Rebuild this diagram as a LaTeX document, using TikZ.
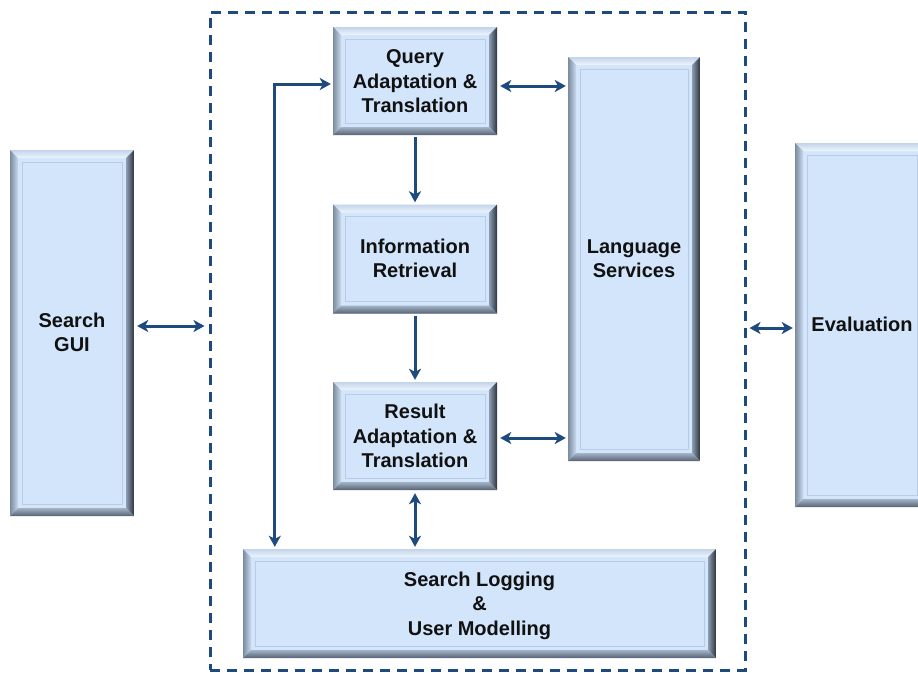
\documentclass[tikz,border=0pt]{standalone}
\usepackage{fontspec}
\setmainfont{Liberation Sans}
\usetikzlibrary{arrows.meta,calc}
\definecolor{navy}{HTML}{1F4A7E}
\definecolor{boxfill}{HTML}{D3E5FB}
\definecolor{topout}{HTML}{C3D4EA}
\definecolor{topin}{HTML}{EEF5FD}
\definecolor{leftout}{HTML}{7C8B9E}
\definecolor{leftin}{HTML}{C9DAEF}
\definecolor{rightin}{HTML}{8E9DB2}
\definecolor{rightout}{HTML}{2C343E}
\definecolor{botin}{HTML}{A4B4C8}
\definecolor{botout}{HTML}{566272}
\definecolor{innerline}{HTML}{BACCE3}
\definecolor{txt}{HTML}{111111}
\newcommand{\lowtext}[2]{\raisebox{-#1}[\height][\depth]{\begin{tabular}{@{}c@{}}#2\end{tabular}}}
\tikzset{
  bev/.style={fill=boxfill, inner sep=0pt, align=center, text=txt,
    font=\fontsize{20}{24.5}\selectfont\bfseries,
    path picture={
      \coordinate (bsw) at (path picture bounding box.south west);
      \coordinate (bne) at (path picture bounding box.north east);
      \coordinate (bnw) at (path picture bounding box.north west);
      \coordinate (bse) at (path picture bounding box.south east);
      \shade[top color=topout, bottom color=topin]
        (bnw) -- (bne) -- ([shift={(-8pt,-8pt)}]bne) -- ([shift={(8pt,-8pt)}]bnw) -- cycle;
      \shade[left color=leftout, right color=leftin]
        (bnw) -- ([shift={(8pt,-8pt)}]bnw) -- ([shift={(8pt,8pt)}]bsw) -- (bsw) -- cycle;
      \shade[left color=rightin, right color=rightout]
        (bne) -- ([shift={(-8pt,-8pt)}]bne) -- ([shift={(-8pt,8pt)}]bse) -- (bse) -- cycle;
      \shade[top color=botin, bottom color=botout]
        (bsw) -- ([shift={(8pt,8pt)}]bsw) -- ([shift={(-8pt,8pt)}]bse) -- (bse) -- cycle;
      \draw[innerline, line width=1pt]
        ([shift={(12pt,12pt)}]bsw) rectangle ([shift={(-12pt,-12pt)}]bne);
    }},
  frame/.style={draw=navy, line width=3pt, dash pattern=on 10pt off 7pt, inner sep=0pt},
  arr/.style={draw=navy, line width=3pt, -{Stealth[length=11pt,width=12pt,inset=3pt]}},
  darr/.style={draw=navy, line width=3pt, {Stealth[length=11pt,width=12pt,inset=3pt]}-{Stealth[length=11pt,width=12pt,inset=3pt]}}
}
\begin{document}
\begin{tikzpicture}[x=1pt,y=-1pt]
\clip (0,0) rectangle (918,672);
\fill[white] (0,0) rectangle (918,672);

\node[frame, minimum width=535pt, minimum height=658pt] (frame) at (477.5,341) {};

\node[bev, minimum width=124pt, minimum height=366pt] (gui) at (72,333) {\lowtext{1.5pt}{Search\\GUI}};
\node[bev, minimum width=134pt, minimum height=364pt] (eval) at (862,325) {\lowtext{1.5pt}{Evaluation}};
\node[bev, minimum width=164pt, minimum height=108pt] (query) at (415,81) {\lowtext{2.5pt}{Query\\Adaptation \&\\Translation}};
\node[bev, minimum width=164pt, minimum height=109pt] (ir) at (415,259) {\lowtext{1.5pt}{Information\\Retrieval}};
\node[bev, minimum width=164pt, minimum height=108pt] (res) at (415,436) {\lowtext{2.5pt}{Result\\Adaptation \&\\Translation}};
\node[bev, minimum width=132pt, minimum height=404pt] (lang) at (634,259) {\lowtext{1.5pt}{Language\\Services}};
\node[bev, minimum width=473pt, minimum height=109pt] (log) at (479.5,603.5) {\lowtext{2.5pt}{Search Logging\\\&\\User Modelling}};

\draw[arr] ([yshift=-2pt]query.south) -- ([yshift=2pt]ir.north);
\draw[arr] ([yshift=-2pt]ir.south) -- ([yshift=2pt]res.north);
\draw[darr] ([yshift=-3pt]res.south) -- ([yshift=2pt]res.south |- log.north);
\draw[darr] ([xshift=-2pt,yshift=-3pt]query.west) -| ([xshift=32pt,yshift=2pt]log.north west);
\draw[darr] ([xshift=3pt,yshift=-5pt]query.east) coordinate (q1) -- ([xshift=-2pt]q1 -| lang.west);
\draw[darr] ([xshift=3pt,yshift=-2pt]res.east) coordinate (r1) -- ([xshift=-2pt]r1 -| lang.west);
\draw[darr] ([xshift=3pt,yshift=7pt]gui.east) coordinate (g1) -- ([xshift=-4pt]g1 -| frame.west);
\draw[darr] ([xshift=-2pt,yshift=-3pt]eval.west) coordinate (e1) -- ([xshift=3pt]e1 -| frame.east);
\end{tikzpicture}
\end{document}
